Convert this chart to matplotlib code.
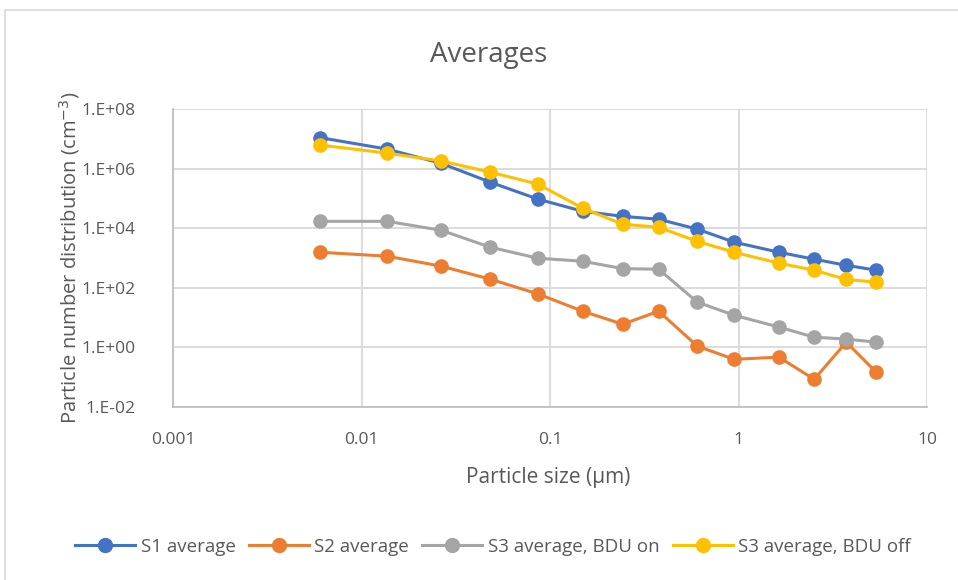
import matplotlib
matplotlib.use("Agg")
import matplotlib.pyplot as plt
from matplotlib.patches import Rectangle
from matplotlib.ticker import FixedLocator, NullLocator

plt.rcParams['font.family'] = ['Open Sans', 'DejaVu Sans']

sizes = [0.006, 0.0137, 0.0265, 0.0482, 0.0865, 0.149, 0.243, 0.377, 0.605, 0.948, 1.64, 2.52, 3.73, 5.37]
s1_avg = [1.1e7, 4.5e6, 1.5e6, 3.5e5, 9.4e4, 3.7e4, 2.5e4, 2.0e4, 9.3e3, 3.4e3, 1.56e3, 9.1e2, 5.7e2, 3.9e2]
s2_avg = [1.56e3, 1.15e3, 5.3e2, 1.95e2, 62, 16.4, 6.0, 16.4, 1.1, 0.40, 0.47, 0.085, 1.5, 0.148]
s3_on = [1.7e4, 1.7e4, 8.5e3, 2.3e3, 9.8e2, 7.8e2, 4.4e2, 4.2e2, 33, 12, 4.8, 2.2, 1.9, 1.5]
s3_off = [6.2e6, 3.3e6, 1.8e6, 7.6e5, 3.0e5, 4.7e4, 1.36e4, 1.08e4, 3.6e3, 1.56e3, 6.7e2, 3.9e2, 1.9e2, 1.55e2]

series = [
    ("S1 average", s1_avg, "#4472C4"),
    ("S2 average", s2_avg, "#ED7D31"),
    ("S3 average, BDU on", s3_on, "#A5A5A5"),
    ("S3 average, BDU off", s3_off, "#FFC000"),
]
x_ticks = [0.001, 0.01, 0.1, 1, 10]
x_tick_labels = ["0.001", "0.01", "0.1", "1", "10"]
y_ticks = [1e-2, 1e0, 1e2, 1e4, 1e6, 1e8]
y_tick_labels = ["1.E-02", "1.E+00", "1.E+02", "1.E+04", "1.E+06", "1.E+08"]

W, H = 958, 580
fig = plt.figure(figsize=(W / 100, H / 100), dpi=100)
fig.patches.append(Rectangle((5 / W, -0.1), 1.2, 1.1 - 10 / H, transform=fig.transFigure,
                             fill=False, edgecolor="#D9D9D9", linewidth=1.2))

ax = fig.add_axes([173 / W, 1 - 407 / H, (927 - 173) / W, (407 - 109) / H])
ax.set_xscale("log")
ax.set_yscale("log")
ax.set_xlim(0.001, 10)
ax.set_ylim(1e-2, 1e8)

for name, vals, col in series:
    ax.plot(sizes, vals, color=col, linewidth=2.2, marker="o", markersize=9.5,
            markeredgecolor=col, label=name, zorder=3)

ax.xaxis.set_major_locator(FixedLocator(x_ticks))
ax.xaxis.set_minor_locator(NullLocator())
ax.yaxis.set_major_locator(FixedLocator(y_ticks))
ax.yaxis.set_minor_locator(NullLocator())
ax.set_xticklabels(x_tick_labels)
ax.set_yticklabels(y_tick_labels)
ax.tick_params(axis="both", length=0, labelsize=12.5, labelcolor="#595959")
ax.tick_params(axis="x", pad=18)
ax.tick_params(axis="y", pad=27)
ax.grid(True, color="#D9D9D9", linewidth=1.3, zorder=0)
for s in ax.spines.values():
    s.set_visible(False)
for side in ("left", "bottom"):
    ax.spines[side].set_visible(True)
    ax.spines[side].set_color("#BFBFBF")
    ax.spines[side].set_linewidth(1.3)

fig.text(489 / W, 1 - 55 / H, "Averages", ha="center", va="center", fontsize=20, color="#595959")
fig.text(548 / W, 1 - 478 / H, "Particle size (µm)", ha="center", va="center", fontsize=15, color="#595959")
fig.text(70 / W, 1 - 258 / H, "Particle number distribution (cm$^{-3}$)", ha="center", va="center",
         rotation=90, fontsize=14.5, color="#595959")

leg = fig.legend(loc="center", bbox_to_anchor=(493 / W, 1 - 547 / H), ncol=4, frameon=False,
                 fontsize=13.5, handlelength=3.2, columnspacing=0.7, handletextpad=0.3,
                 labelcolor="#595959")
for h in leg.legend_handles:
    h.set_markersize(10)

fig.savefig("out.png", dpi=100)
